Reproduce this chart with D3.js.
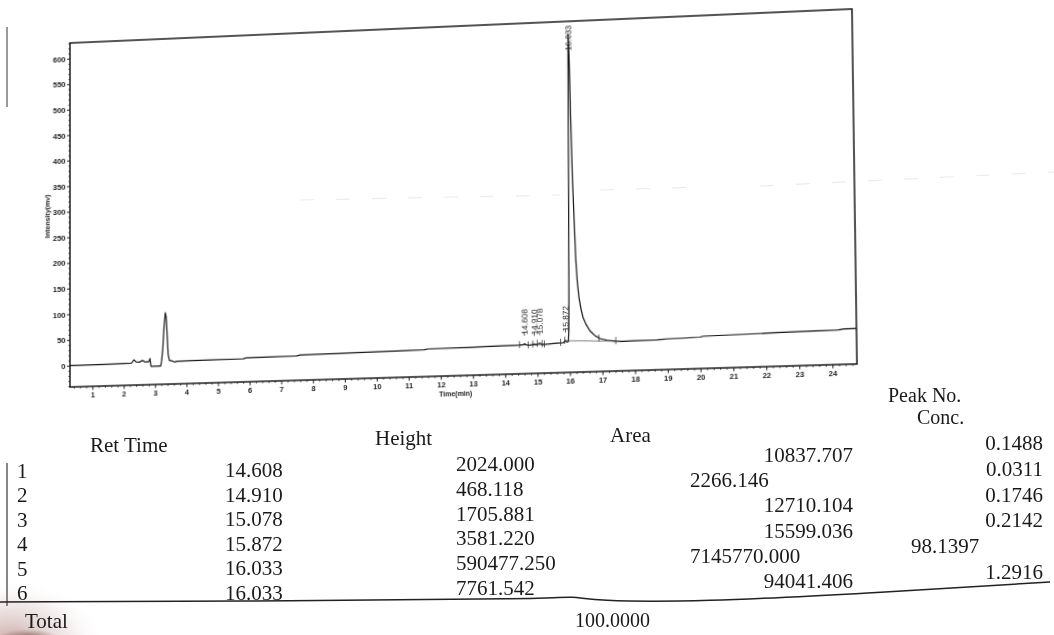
<!DOCTYPE html>
<html>
<head>
<meta charset="utf-8">
<script src="https://cdn.jsdelivr.net/npm/d3@7"></script>
<style>
  html, body { margin: 0; padding: 0; background: #fff; width: 1054px; height: 635px; overflow: hidden; }
  #plotWrap { position: absolute; left: 0; top: 0; width: 1054px; height: 420px; transform-origin: 0 0; }
  #page { position: absolute; left: 0; top: 0; }
  .tick text { font-family: "Liberation Sans", Arial, sans-serif; font-weight: bold; fill: #1c1c1c; }
</style>
</head>
<body>
<div id="plotWrap"></div>
<svg id="page" width="1054" height="635"></svg>
<script>
// Chromatogram trace: retention time (min) and detector response (mV)
const times = [0.28, 1.0, 2.0, 2.25, 2.33, 2.40, 2.50, 2.60, 2.68, 2.80, 2.84, 2.87, 3.18, 3.21, 3.25, 3.29, 3.33, 3.36, 3.39, 3.42,
  3.46, 3.55, 3.62, 3.70, 4.60, 5.80, 5.90, 7.50, 7.60, 9.00, 10.5, 11.50, 11.60, 13.00, 14.30, 14.45, 14.55, 14.608, 14.66, 14.75,
  14.85, 14.91, 14.97, 15.03, 15.078, 15.13, 15.20, 15.40, 15.60, 15.80, 15.872, 15.92, 15.96, 15.98, 15.995, 16.01, 16.02, 16.03, 16.033, 16.05,
  16.07, 16.09, 16.13, 16.17, 16.21, 16.25, 16.30, 16.36, 16.42, 16.50, 16.63, 16.78, 16.94, 17.15, 17.40, 17.60, 18.00, 18.70, 19.00, 19.50,
  20.00, 20.10, 21.00, 22.00, 23.00, 24.20, 24.35, 24.74];
const intensities = [0, 0.2, 0.6, 0.9, 7.5, 3.0, 2.6, 5.5, 2.8, 2.6, 9.0, -6.0, -6.0, 3.0, 28, 70, 97, 88, 52, 16,
  4.0, 3.0, 0.8, 2.0, 2.6, 3.2, 4.4, 5.6, 7.0, 8.0, 9.0, 10.0, 11.2, 12.0, 13.0, 13.2, 14.0, 15.3, 13.6, 12.2,
  13.6, 14.3, 13.5, 14.6, 15.7, 13.9, 12.8, 14.0, 14.8, 15.2, 18.9, 16.2, 17.0, 40, 150, 330, 470, 590, 606, 585,
  530, 450, 330, 250, 175, 132, 100, 78, 62, 50, 36, 27, 21, 17.5, 15.3, 14.5, 14.8, 15.5, 16.5, 17.0,
  18.0, 19.5, 20.5, 21.5, 22.5, 23.5, 25.0, 25.5];

// Axis ticks
const xTicks = d3.range(1, 25);
const yTicks = d3.range(0, 601, 50);

// Peak labels written above the trace
const peakTimes = [14.608, 14.910, 15.078, 15.872, 16.033];
const peakLabels = ["14.608", "14.910", "15.078", "15.872", "16.033"];
// Integration start / end marks on the trace
const markTimes = [14.45, 14.72, 14.86, 15.00, 15.15, 15.22, 15.72, 15.85, 16.90, 17.42];
const integrationSpans = [[14.45, 15.22], [15.85, 17.42]];

// Peak table
const peakNo = ["1", "2", "3", "4", "5", "6"];
const retTime = ["14.608", "14.910", "15.078", "15.872", "16.033", "16.033"];
const heightVals = ["2024.000", "468.118", "1705.881", "3581.220", "590477.250", "7761.542"];
const areaVals = ["10837.707", "2266.146", "12710.104", "15599.036", "7145770.000", "94041.406"];
const concVals = ["0.1488", "0.0311", "0.1746", "0.2142", "98.1397", "1.2916"];
const totalConc = "100.0000";

// ---------- plot ----------
const W = 1054, H = 420;
const F = { x0: 70, x1: 855, y0: 43, y1: 387 };
const x = d3.scaleLinear().domain([0.28, 24.74]).range([F.x0, F.x1]);
const y = d3.scaleLinear().domain([-41.6, 630.7]).range([F.y1, F.y0]);

const plot = d3.select("#plotWrap").append("svg").attr("width", W).attr("height", H);
const ink = "#1d1d1d";

// minor ticks
plot.append("g").attr("transform", `translate(${F.x0},0)`)
  .call(d3.axisLeft(y).tickValues(d3.range(-40, 631, 10).filter(v => v % 50 !== 0)).tickSize(1.6).tickFormat(""))
  .call(g => g.select(".domain").remove())
  .selectAll("line").attr("stroke", ink).attr("stroke-width", 0.8);
plot.append("g").attr("transform", `translate(0,${F.y1})`)
  .call(d3.axisBottom(x).tickValues(d3.range(0.4, 24.7, 0.2).filter(v => Math.abs(v - Math.round(v)) > 0.05)).tickSize(1.8).tickFormat(""))
  .call(g => g.select(".domain").remove())
  .selectAll("line").attr("stroke", ink).attr("stroke-width", 0.8);

// major ticks and labels
plot.append("g").attr("transform", `translate(${F.x0},0)`)
  .call(d3.axisLeft(y).tickValues(yTicks).tickSize(3).tickPadding(1.5))
  .call(g => g.select(".domain").remove())
  .call(g => g.selectAll("line").attr("stroke", ink).attr("stroke-width", 1))
  .call(g => g.selectAll("text").attr("font-size", 8));
plot.append("g").attr("transform", `translate(0,${F.y1})`)
  .call(d3.axisBottom(x).tickValues(xTicks).tickSize(3.5).tickPadding(2.5))
  .call(g => g.select(".domain").remove())
  .call(g => g.selectAll("line").attr("stroke", ink).attr("stroke-width", 1))
  .call(g => g.selectAll("text").attr("font-size", 7.5));

// frame
plot.append("rect")
  .attr("x", F.x0).attr("y", F.y0).attr("width", F.x1 - F.x0).attr("height", F.y1 - F.y0)
  .attr("fill", "none").attr("stroke", ink).attr("stroke-width", 1.5);

// axis titles
plot.append("text")
  .attr("transform", `translate(49,${(y(0) + y(600)) / 2 + 4}) rotate(-90)`)
  .attr("text-anchor", "middle")
  .attr("font-family", "Liberation Sans, Arial, sans-serif").attr("font-weight", "bold")
  .attr("font-size", 7).attr("fill", ink).text("Intensity(mv)");
plot.append("text")
  .attr("x", x(12.0) - 2).attr("y", F.y1 + 20)
  .attr("font-family", "Liberation Sans, Arial, sans-serif").attr("font-weight", "bold")
  .attr("font-size", 7).attr("fill", ink).text("Time(min)");

// trace
const pts = times.map((t, i) => [t, intensities[i]]);
const bis = d3.bisector(d => d[0]).center;
const valueAt = t => pts[bis(pts, t)][1];

plot.append("path")
  .datum(pts)
  .attr("d", d3.line().x(d => x(d[0])).y(d => y(d[1])))
  .attr("fill", "none").attr("stroke", "#161616").attr("stroke-width", 1.2)
  .attr("stroke-linejoin", "round");

// integration baselines
integrationSpans.forEach(([a, b]) => {
  plot.append("line")
    .attr("x1", x(a)).attr("y1", y(valueAt(a)))
    .attr("x2", x(b)).attr("y2", y(valueAt(b)))
    .attr("stroke", "#333").attr("stroke-width", 0.6);
});

// integration marks
plot.append("g").selectAll("line").data(markTimes).join("line")
  .attr("x1", d => x(d)).attr("x2", d => x(d))
  .attr("y1", d => y(valueAt(d)) + 3).attr("y2", d => y(valueAt(d)) - 4)
  .attr("stroke", "#222").attr("stroke-width", 0.7);

// peak labels (kept inside the frame)
const labelFont = 8, labelLen = 25;
peakTimes.forEach((t, i) => {
  const py = y(valueAt(t));
  const bottom = Math.max(py - 9, F.y0 + 4 + labelLen);
  const g = plot.append("g").attr("transform", `translate(${x(t) + 3},${bottom}) rotate(-90)`);
  g.append("text")
    .attr("font-family", "Liberation Sans, Arial, sans-serif")
    .attr("font-size", labelFont).attr("fill", "#222")
    .attr("textLength", labelLen).attr("lengthAdjust", "spacingAndGlyphs")
    .text(peakLabels[i]);
  g.append("line").attr("x1", -1).attr("x2", 3).attr("y1", -3).attr("y2", -3)
    .attr("stroke", "#222").attr("stroke-width", 0.7);
});

// The sheet was photographed at a slant: map the plot rectangle onto the slanted outline.
function homography(src, dst) {
  const A = [], b = [];
  for (let i = 0; i < 4; i++) {
    const [sx, sy] = src[i], [u, v] = dst[i];
    A.push([sx, sy, 1, 0, 0, 0, -sx * u, -sy * u]); b.push(u);
    A.push([0, 0, 0, sx, sy, 1, -sx * v, -sy * v]); b.push(v);
  }
  const n = 8;
  for (let c = 0; c < n; c++) {
    let p = c;
    for (let r = c + 1; r < n; r++) if (Math.abs(A[r][c]) > Math.abs(A[p][c])) p = r;
    [A[c], A[p]] = [A[p], A[c]]; [b[c], b[p]] = [b[p], b[c]];
    for (let r = 0; r < n; r++) {
      if (r === c) continue;
      const f = A[r][c] / A[c][c];
      for (let k = c; k < n; k++) A[r][k] -= f * A[c][k];
      b[r] -= f * b[c];
    }
  }
  return b.map((v, i) => v / A[i][i]);
}
const [ha, hb, hc, hd, he, hf, hg, hh] = homography(
  [[F.x0, F.y0], [F.x1, F.y0], [F.x1, F.y1], [F.x0, F.y1]],
  [[70, 43], [852, 9], [857, 364], [70, 387]]
);
document.getElementById("plotWrap").style.transform =
  `matrix3d(${ha},${hd},0,${hg},${hb},${he},0,${hh},0,0,1,0,${hc},${hf},0,1)`;

// ---------- page: table and sheet marks ----------
const page = d3.select("#page");
const defs = page.append("defs");
const grad = defs.append("radialGradient").attr("id", "smudge");
grad.append("stop").attr("offset", "0%").attr("stop-color", "#b98f8c").attr("stop-opacity", 0.75);
grad.append("stop").attr("offset", "60%").attr("stop-color", "#d8c0c0").attr("stop-opacity", 0.35);
grad.append("stop").attr("offset", "100%").attr("stop-color", "#ffffff").attr("stop-opacity", 0);
page.append("ellipse").attr("cx", 10).attr("cy", 640).attr("rx", 95).attr("ry", 60).attr("fill", "url(#smudge)");
const grad2 = defs.append("radialGradient").attr("id", "smudgeDark");
grad2.append("stop").attr("offset", "0%").attr("stop-color", "#6e4a40").attr("stop-opacity", 0.85);
grad2.append("stop").attr("offset", "100%").attr("stop-color", "#8a6a62").attr("stop-opacity", 0);
page.append("ellipse").attr("cx", 28).attr("cy", 638).attr("rx", 30).attr("ry", 9).attr("fill", "url(#smudgeDark)");

// sheet edge lines on the left
page.append("line").attr("x1", 7).attr("x2", 7).attr("y1", 27).attr("y2", 107).attr("stroke", "#555").attr("stroke-width", 1.2);
page.append("line").attr("x1", 7).attr("x2", 7).attr("y1", 463).attr("y2", 606).attr("stroke", "#555").attr("stroke-width", 1.4);

// faint scan streak
page.append("path")
  .attr("d", "M300,200 L560,195 M600,190 L700,187 M760,186 L1054,172")
  .attr("stroke", "#cfcfcf").attr("stroke-width", 1.2).attr("stroke-dasharray", "14 22").attr("opacity", 0.4).attr("fill", "none");

const serif = "Liberation Serif, Times New Roman, serif";
const txt = (xx, yy, s, anchor, size) => page.append("text")
  .attr("x", xx).attr("y", yy).attr("text-anchor", anchor || "start")
  .attr("font-family", serif).attr("font-size", size || 21).attr("fill", "#1a1a1a").text(s);

// headers
txt(90, 452, "Ret Time");
txt(375, 445, "Height");
txt(610, 442, "Area");
txt(888, 402, "Peak No.", "start", 20);
txt(917, 424, "Conc.", "start", 20);

// rows
peakNo.forEach((s, i) => txt(17, 478 + 24.4 * i, s));
retTime.forEach((s, i) => txt(225, 477 + 24.5 * i, s));
heightVals.forEach((s, i) => txt(456, 471 + 24.8 * i, s));
areaVals.forEach((s, i) => {
  const left = (i === 1 || i === 4);
  txt(left ? 690 : 853, 462 + 25.2 * i, s, left ? "start" : "end");
});
concVals.forEach((s, i) => {
  if (i === 4) txt(911, 450 + 25.8 * i, s);
  else txt(1043, 450 + 25.8 * i, s, "end");
});

// rule under the last row
page.append("path")
  .attr("d", d3.line().curve(d3.curveBasis)([[0, 602], [300, 601], [540, 599], [575, 596], [592, 601], [700, 602], [870, 593], [1050, 582]]))
  .attr("fill", "none").attr("stroke", "#222").attr("stroke-width", 1.5);

txt(25, 628, "Total");
txt(575, 627, totalConc, "start", 20);
</script>
</body>
</html>
